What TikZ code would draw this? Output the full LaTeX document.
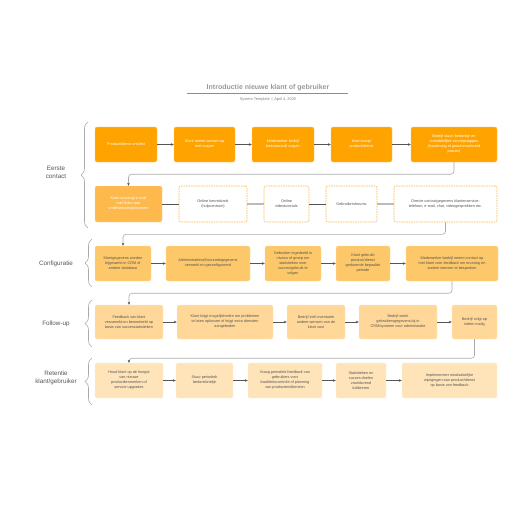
\documentclass[tikz,border=0pt]{standalone}
\usepackage{fontspec}
\setmainfont{Liberation Sans}
\usetikzlibrary{arrows.meta,decorations.pathreplacing}
\definecolor{cA}{HTML}{FFA300}
\definecolor{cB}{HTML}{FDB94C}
\definecolor{cC}{HTML}{FDC86A}
\definecolor{cD}{HTML}{FFD899}
\definecolor{cE}{HTML}{FFE4BA}
\definecolor{cDash}{HTML}{F9B23E}
\definecolor{txt}{HTML}{555555}
\definecolor{lineDark}{HTML}{555555}
\definecolor{lineLight}{HTML}{BBBBBB}
\definecolor{routeC}{HTML}{AAAAAA}
\tikzset{
  box/.style={rounded corners=2pt, align=center, inner sep=1pt,
    font=\fontsize{3.8}{5}\selectfont, text=txt},
  boxA/.style={box, fill=cA, draw=cA!60!white, line width=0.4pt, text=white},
  boxB/.style={box, fill=cB, draw=cB!60!white, line width=0.4pt, text=white},
  boxC/.style={box, fill=cC, draw=cC!60!white, line width=0.4pt},
  boxD/.style={box, fill=cD, draw=cD!60!white, line width=0.4pt},
  boxE/.style={box, fill=cE, draw=cE!60!white, line width=0.4pt},
  boxDash/.style={box, fill=white, draw=cDash, dashed, dash pattern=on 1.5pt off 1pt, line width=0.6pt},
  arr/.style={draw=lineDark, line width=0.6pt, -{Stealth[length=3pt,width=2.6pt]}},
  plainDark/.style={draw=lineDark, line width=0.6pt},
  plainLight/.style={draw=lineLight, line width=1.2pt},
  route/.style={draw=routeC, line width=0.6pt, rounded corners=3pt, -{Stealth[length=3pt,width=2.6pt,color=lineDark]}},
  stagebrace/.style={draw=routeC, line width=0.6pt, decorate, decoration={brace, amplitude=7pt}},
  stage/.style={font=\fontsize{6.3}{8}\selectfont, text=txt, align=center},
}
\begin{document}
\begin{tikzpicture}[x=1pt,y=-1pt]
\useasboundingbox (0,0) rectangle (516,516);
% title
\node[font=\bfseries\fontsize{7}{8}\selectfont, text=black!40] (title) at (268,88) {Introductie nieuwe klant of gebruiker};
\coordinate (tl) at (187,93.5);
\coordinate (tr) at (348,93.5);
\draw[black!45, line width=0.6pt] (tl) -- (tr);
\node[font=\fontsize{3.9}{5}\selectfont, text=black!50] (sub) at (268,99.5) {System Template \,|\, April 4, 2025};

% stage labels
\node[stage] (s1) at (56,172) {Eerste\\contact};
\node[stage] (s2) at (56,263.5) {Configuratie};
\node[stage] (s3) at (56,323.5) {Follow-up};
\node[stage] (s4) at (56,378) {Retentie\\klant/gebruiker};

% braces
\coordinate (br1a) at (88,228); \coordinate (br1b) at (88,122);
\coordinate (br2a) at (92,287); \coordinate (br2b) at (92,239);
\coordinate (br3a) at (92,347); \coordinate (br3b) at (92,300);
\coordinate (br4a) at (92,405); \coordinate (br4b) at (92,358);
\draw[stagebrace] (br1a) -- (br1b);
\draw[stagebrace] (br2a) -- (br2b);
\draw[stagebrace] (br3a) -- (br3b);
\draw[stagebrace] (br4a) -- (br4b);

% row 1
\node[boxA, minimum width=62pt, minimum height=35pt] (b1) at (126,144.5) {Product/dienst ontdekt};
\node[boxA, minimum width=61pt, minimum height=35pt] (b2) at (204.5,144.5) {Klant neemt contact op\\met vragen};
\node[boxA, minimum width=62pt, minimum height=35pt] (b3) at (283,144.5) {Medewerker bedrijf\\beantwoordt vragen};
\node[boxA, minimum width=61pt, minimum height=35pt] (b4) at (361.5,144.5) {Klant koopt\\product/dienst};
\node[boxA, minimum width=86pt, minimum height=35pt] (b5) at (454,144.5) {Bedrijf stuurt bedankje en\\onmiddellijke vervolgstappen\\(handmatig of geautomatiseerd\\proces)};

% row 2
\node[boxB, minimum width=67pt, minimum height=36pt] (b6) at (128.5,204) {Klant ontvangt e-mail\\met links naar\\ondersteuningsbronnen};
\node[boxDash, minimum width=68pt, minimum height=36pt] (b7) at (213,204) {Online kennisbank\\(hulpcentrum)};
\node[boxDash, minimum width=45pt, minimum height=36pt] (b8) at (286.5,204) {Online\\videotutorials};
\node[boxDash, minimum width=51pt, minimum height=36pt] (b9) at (351.5,204) {Gebruikersforums};
\node[boxDash, minimum width=103pt, minimum height=36pt] (b10) at (445.5,204) {Directe contactgegevens klantenservice:\\telefoon, e-mail, chat, videogesprekken etc.};

% row 3
\node[boxC, minimum width=56pt, minimum height=35pt] (b11) at (123,263.5) {Klantgegevens worden\\bijgewerkt in CRM of\\andere database};
\node[boxC, minimum width=84pt, minimum height=35pt] (b12) at (208,263.5) {Administratieve/facturatiegegevens\\verwerkt en geconfigureerd};
\node[boxC, minimum width=56pt, minimum height=35pt] (b13) at (293,263.5) {Gebruiker ingedeeld in\\niveau of groep om\\statistieken over\\succes/gebruik te\\volgen};
\node[boxC, minimum width=54pt, minimum height=35pt] (b14) at (363,263.5) {Klant gebruikt\\product/dienst\\gedurende bepaalde\\periode};
\node[boxC, minimum width=92pt, minimum height=35pt] (b15) at (452,263.5) {Medewerker bedrijf neemt contact op\\met klant voor feedback om ervaring en\\andere wensen te bespreken};

% row 4
\node[boxD, minimum width=68pt, minimum height=34pt] (b16) at (129,322) {Feedback van klant\\verzameld en beoordeeld op\\basis van successtatistieken};
\node[boxD, minimum width=96pt, minimum height=34pt] (b17) at (225,322) {Klant krijgt mogelijkheden om problemen\\te laten oplossen of krijgt extra diensten\\aangeboden};
\node[boxD, minimum width=58pt, minimum height=34pt] (b18) at (316,322) {Bedrijf stelt eventuele\\andere wensen van de\\klant vast};
\node[boxD, minimum width=78pt, minimum height=34pt] (b19) at (398,322) {Bedrijf werkt\\gebruikersgegevens bij in\\CRM/systeem voor administratie};
\node[boxD, minimum width=45pt, minimum height=34pt] (b20) at (474.5,322) {Bedrijf volgt op\\indien nodig};

% row 5
\node[boxE, minimum width=68pt, minimum height=35pt] (b21) at (129,380.5) {Houd klant op de hoogte\\van nieuwe\\productkenmerken of\\service-upgrades};
\node[boxE, minimum width=57pt, minimum height=35pt] (b22) at (204.5,380.5) {Stuur periodiek\\bedankbriefje};
\node[boxE, minimum width=74pt, minimum height=35pt] (b23) at (285,380.5) {Vraag periodiek feedback van\\gebruikers voor\\kwaliteitscontrole of planning\\van producten/diensten};
\node[boxE, minimum width=50pt, minimum height=35pt] (b24) at (361,380.5) {Statistieken en\\succes doelen\\voortdurend\\kalibreren};
\node[boxE, minimum width=95pt, minimum height=35pt] (b25) at (449.5,380.5) {Implementeer noodzakelijke\\wijzigingen aan product/dienst\\op basis van feedback};

% connectors row 1
\draw[arr] (b1) -- (b2);
\draw[arr] (b2) -- (b3);
\draw[arr] (b3) -- (b4);
\draw[arr] (b4) -- (b5);
% row 2
\draw[plainDark] (b6) -- (b7);
\draw[plainLight] (b7) -- (b8);
\draw[plainDark] (b8) -- (b9);
\draw[plainLight] (b9) -- (b10);
% row 3
\draw[arr] (b11) -- (b12);
\draw[arr] (b12) -- (b13);
\draw[arr] (b13) -- (b14);
\draw[arr] (b14) -- (b15);
% row 4
\draw[arr] (b16) -- (b17);
\draw[arr] (b17) -- (b18);
\draw[arr] (b18) -- (b19);
\draw[arr] (b19) -- (b20);
% row 5
\draw[arr] (b21) -- (b22);
\draw[arr] (b22) -- (b23);
\draw[arr] (b23) -- (b24);
\draw[arr] (b24) -- (b25);

% routes between rows
\draw[route] (b5.south) -- ++(0,12) -| (b6.north);
\draw[route] (b10.south) -- ++(0,12) -| (b11.north);
\draw[route] (b15.south) -- ++(0,12) -| (b16.north);
\draw[route] (b20.south) -- ++(0,19) -| (b21.north);
\end{tikzpicture}
\end{document}
